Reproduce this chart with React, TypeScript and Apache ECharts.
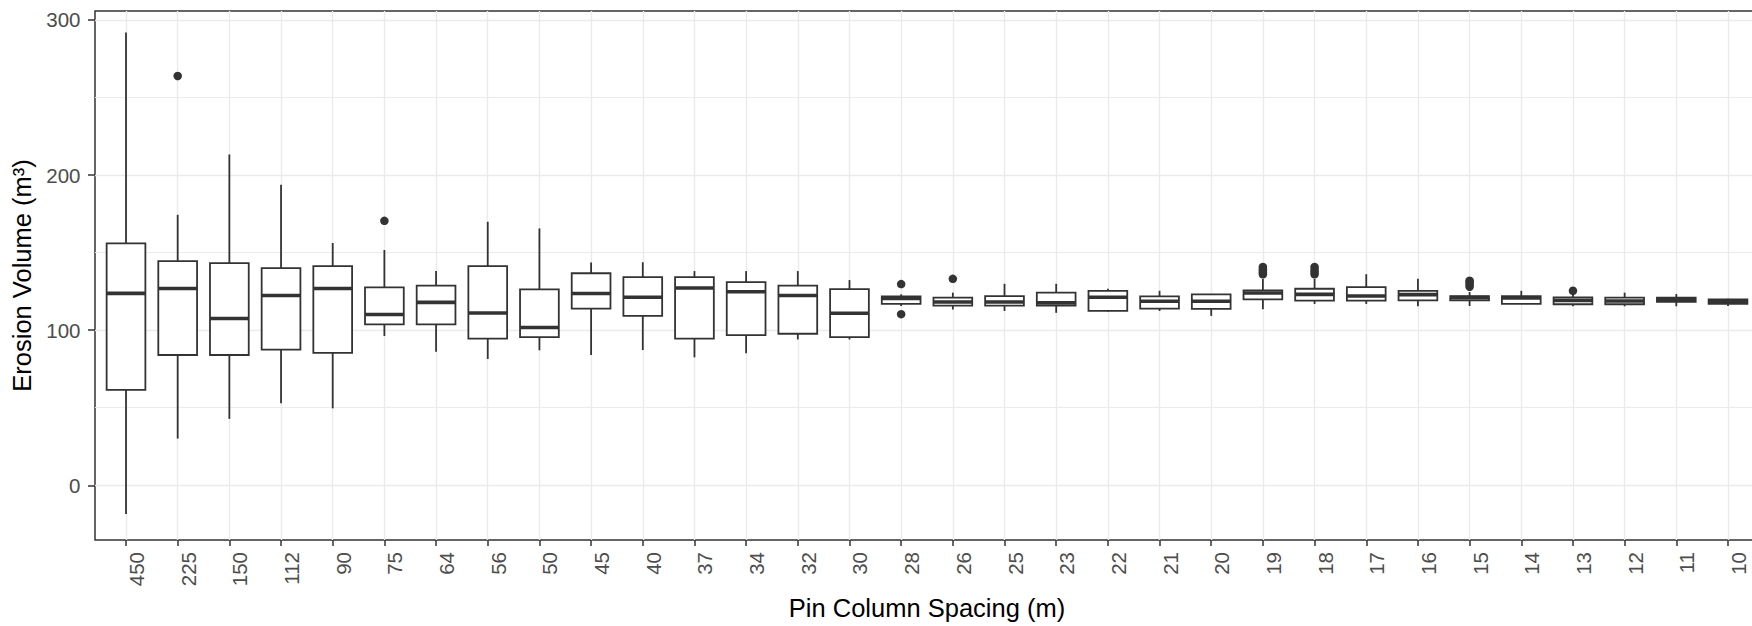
import { useEffect, useRef } from "react";
import * as echarts from "echarts";

// Pin column spacing categories (m), widest spacing first
const spacings = [
  "450", "225", "150", "112", "90", "75", "64", "56", "50", "45", "40",
  "37", "34", "32", "30", "28", "26", "25", "23", "22", "21", "20",
  "19", "18", "17", "16", "15", "14", "13", "12", "11", "10",
];

// Five-number summaries of erosion volume (m³) per spacing
const lowerWhisker = [
  -18.6, 30.1, 42.8, 52.8, 49.6, 96.2, 86.1, 81.4, 87.0, 84.0, 87.2,
  82.5, 85.1, 94.0, 94.0, 115.6, 113.3, 112.4, 111.2, 112.0, 112.4, 109.2,
  113.5, 116.9, 116.9, 115.4, 115.6, 116.9, 115.4, 115.4, 115.4, 115.6,
];
const lowerHinge = [
  61.5, 84.0, 84.0, 87.4, 85.3, 103.7, 103.7, 94.5, 95.5, 113.9, 109.2,
  94.5, 96.8, 97.7, 95.5, 116.9, 115.8, 115.8, 115.8, 112.4, 113.9, 113.7,
  119.9, 119.0, 119.0, 119.2, 119.2, 116.9, 116.7, 116.7, 118.2, 116.9,
];
const medians = [
  123.7, 126.9, 107.5, 122.4, 126.9, 110.1, 117.9, 111.1, 101.7, 123.6, 121.2,
  127.2, 124.8, 122.4, 110.9, 120.5, 118.2, 118.2, 117.6, 121.2, 118.6, 118.6,
  124.0, 123.1, 122.0, 122.9, 121.0, 120.7, 119.2, 118.8, 119.7, 118.6,
];
const upperHinge = [
  156.0, 144.5, 143.2, 140.0, 141.3, 127.6, 128.7, 141.3, 126.3, 136.7, 134.2,
  134.2, 131.0, 128.7, 126.5, 121.8, 121.0, 122.0, 124.2, 125.4, 121.8, 123.1,
  125.6, 126.7, 127.8, 125.4, 122.0, 122.0, 121.2, 121.0, 121.0, 119.9,
];
const upperWhisker = [
  291.9, 174.4, 213.3, 193.8, 156.2, 151.7, 138.1, 169.9, 165.6, 143.7, 143.8,
  138.1, 138.1, 138.1, 132.3, 123.1, 124.2, 129.9, 129.9, 126.7, 125.4, 123.1,
  133.0, 133.0, 136.1, 133.1, 124.6, 125.4, 123.1, 124.2, 123.3, 120.3,
];

// Outlying runs, paired by position
const outlierSpacing = [
  "225", "75", "28", "28", "26",
  "19", "19", "19", "19", "19",
  "18", "18", "18", "18",
  "15", "15", "15", "15", "13",
];
const outlierVolume = [
  263.9, 170.5, 129.7, 110.3, 133.1,
  136.0, 137.2, 138.4, 139.6, 140.8,
  136.0, 137.5, 139.0, 140.8,
  128.0, 129.5, 131.0, 131.9, 125.4,
];

const yTicks = [0, 100, 200, 300];
const yMinorTicks = [50, 150, 250];

const ink = "#333333";
const tickText = "#4D4D4D";
const gridColor = "#EBEBEB";
const font = "'Liberation Sans', Arial, Helvetica, sans-serif";
const boxFraction = 0.75;

export default function App() {
  const ref = useRef<HTMLDivElement>(null);

  useEffect(() => {
    if (!ref.current) return;
    const chart = echarts.init(ref.current, null, { renderer: "svg" });

    const positions = spacings.map((_, i) => i);
    const boxRows = spacings.map((_, i) => [
      i,
      lowerWhisker[i],
      lowerHinge[i],
      medians[i],
      upperHinge[i],
      upperWhisker[i],
    ]);
    const outlierPoints = outlierSpacing.map((s, k) => [
      spacings.indexOf(s),
      outlierVolume[k],
    ]);

    const yMin = -35.3;
    const yMax = 305.8;

    chart.setOption({
      animation: false,
      backgroundColor: "#ffffff",
      grid: {
        left: 95,
        top: 11,
        right: 1,
        bottom: 83,
        show: true,
        borderColor: ink,
        borderWidth: 1.5,
        backgroundColor: "transparent",
      },
      xAxis: {
        type: "value",
        min: -0.6,
        max: 31.6,
        name: "Pin Column Spacing (m)",
        nameLocation: "middle",
        nameGap: 55,
        nameTextStyle: { color: "#000000", fontSize: 25.5, fontFamily: font },
        axisLine: { show: false, onZero: false },
        axisTick: {
          show: true,
          length: 6,
          customValues: positions,
          lineStyle: { color: ink, width: 1.5 },
        },
        axisLabel: {
          customValues: positions,
          formatter: (v: number) => spacings[Math.round(v)] ?? "",
          rotate: 90,
          verticalAlign: "top",
          margin: 12,
          color: tickText,
          fontSize: 20.5,
          fontFamily: font,
        },
        splitLine: { show: true, lineStyle: { color: gridColor, width: 1.4 } },
      },
      yAxis: [
        {
          type: "value",
          min: yMin,
          max: yMax,
          name: "Erosion Volume (m³)",
          nameLocation: "middle",
          nameGap: 55,
          nameTextStyle: { color: "#000000", fontSize: 25.5, fontFamily: font },
          axisLine: { show: false, onZero: false },
          axisTick: {
            show: true,
            length: 7,
            customValues: yTicks,
            lineStyle: { color: ink, width: 1.5 },
          },
          axisLabel: {
            customValues: yTicks,
            margin: 14.5,
            color: tickText,
            fontSize: 20.5,
            fontFamily: font,
          },
          splitLine: { show: true, lineStyle: { color: gridColor, width: 1.4 } },
        },
        {
          type: "value",
          min: yMin,
          max: yMax,
          position: "left",
          axisLine: { show: false, onZero: false },
          axisTick: { show: false, customValues: yMinorTicks },
          axisLabel: { show: false, customValues: yMinorTicks },
          splitLine: { show: true, lineStyle: { color: gridColor, width: 1 } },
        },
      ],
      series: [
        {
          type: "custom",
          name: "boxes",
          data: boxRows,
          encode: { x: 0, y: [1, 2, 3, 4, 5] },
          z: 3,
          renderItem: (_params: any, api: any) => {
            const x = api.value(0) as number;
            const lo = api.coord([x, api.value(1)]);
            const q1 = api.coord([x, api.value(2)]);
            const med = api.coord([x, api.value(3)]);
            const q3 = api.coord([x, api.value(4)]);
            const hi = api.coord([x, api.value(5)]);
            const half = (api.size([boxFraction, 0]) as number[])[0] / 2;
            const cx = lo[0];
            const lineStyle = { stroke: ink, lineWidth: 1.8 };
            return {
              type: "group",
              children: [
                { type: "line", shape: { x1: cx, y1: hi[1], x2: cx, y2: q3[1] }, style: lineStyle },
                { type: "line", shape: { x1: cx, y1: q1[1], x2: cx, y2: lo[1] }, style: lineStyle },
                {
                  type: "rect",
                  shape: { x: cx - half, y: q3[1], width: half * 2, height: q1[1] - q3[1] },
                  style: { fill: "#ffffff", stroke: ink, lineWidth: 1.8 },
                },
                {
                  type: "line",
                  shape: { x1: cx - half, y1: med[1], x2: cx + half, y2: med[1] },
                  style: { stroke: ink, lineWidth: 3.6 },
                },
              ],
            };
          },
        },
        {
          type: "scatter",
          name: "outliers",
          data: outlierPoints,
          symbol: "circle",
          symbolSize: 8.5,
          itemStyle: { color: ink, opacity: 1 },
          z: 4,
        },
      ],
    });

    return () => chart.dispose();
  }, []);

  return (
    <div
      style={{
        position: "fixed",
        left: 0,
        top: 0,
        width: 1752,
        height: 626,
        overflow: "hidden",
        background: "#ffffff",
      }}
    >
      <div ref={ref} style={{ width: 1760, height: 626 }} />
    </div>
  );
}
